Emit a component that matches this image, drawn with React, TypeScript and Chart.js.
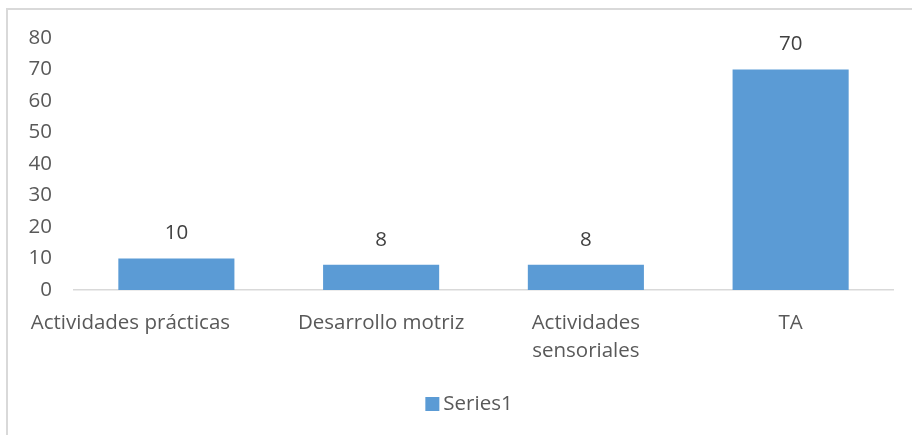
import React, { useEffect, useRef } from "react";
import { Chart, registerables } from "chart.js";

Chart.register(...registerables);

const categories: (string | string[])[] = [
  "Actividades prácticas",
  "Desarrollo motriz",
  ["Actividades", "sensoriales"],
  "TA",
];
const seriesName = "Series1";
const seriesValues = [10, 8, 8, 70];
const yMin = 0;
const yMax = 80;
const yStep = 10;

const FONT = "'Open Sans', 'Noto Sans', sans-serif";
const FONT_SIZE = 20.5;
const TEXT_COLOR = "#595959";
const BAR_COLOR = "#5B9BD5";

// Excel nudged the first (wide) category label to the left
const FIRST_LABEL_SHIFT = -46;

const dataLabels = {
  id: "dataLabels",
  afterDatasetsDraw(chart: any) {
    const ctx = chart.ctx;
    ctx.save();
    ctx.font = `${FONT_SIZE}px ${FONT}`;
    ctx.fillStyle = "#404040";
    ctx.textAlign = "center";
    ctx.textBaseline = "middle";
    chart.data.datasets.forEach((ds: any, i: number) => {
      const meta = chart.getDatasetMeta(i);
      meta.data.forEach((bar: any, j: number) => {
        ctx.fillText(String(ds.data[j]), bar.x, bar.y - 25);
      });
    });
    ctx.restore();
  },
};

const xLabelsAndLegend = {
  id: "xLabelsAndLegend",
  afterDraw(chart: any) {
    const ctx = chart.ctx;
    const xs = chart.scales.x;
    const bottom = chart.chartArea.bottom;
    ctx.save();
    ctx.font = `${FONT_SIZE}px ${FONT}`;
    ctx.fillStyle = TEXT_COLOR;
    ctx.textAlign = "center";
    ctx.textBaseline = "middle";
    (chart.data.labels as any[]).forEach((lab, i) => {
      const lines = Array.isArray(lab) ? lab : [lab];
      let x = xs.getPixelForTick(i);
      if (i === 0) x += FIRST_LABEL_SHIFT;
      lines.forEach((ln: string, k: number) => {
        ctx.fillText(ln, x, bottom + 33 + k * 28);
      });
    });
    // legend
    const ds = chart.data.datasets[0];
    const box = 14;
    const gap = 4;
    const tw = ctx.measureText(ds.label).width;
    const total = box + gap + tw;
    const cx = (chart.width + 26) / 2;
    const cy = 404;
    const sx = cx - total / 2;
    ctx.fillStyle = ds.backgroundColor;
    ctx.fillRect(sx, cy - box / 2, box, box);
    ctx.fillStyle = TEXT_COLOR;
    ctx.textAlign = "left";
    ctx.fillText(ds.label, sx + box + gap, cy);
    ctx.restore();
  },
};

export default function App() {
  const ref = useRef<HTMLCanvasElement | null>(null);
  useEffect(() => {
    if (!ref.current) return;
    const chart = new Chart(ref.current, {
      type: "bar",
      data: {
        labels: categories,
        datasets: [
          {
            label: seriesName,
            data: seriesValues,
            backgroundColor: BAR_COLOR,
            borderWidth: 0,
            categoryPercentage: 1,
            barPercentage: 0.567,
          },
        ],
      },
      options: {
        animation: false,
        responsive: false,
        maintainAspectRatio: false,
        layout: { padding: { left: 0, right: 19, top: 38, bottom: 50 } },
        scales: {
          x: {
            grid: { display: false, drawTicks: false },
            border: { display: true, color: "#D9D9D9", width: 1.5 },
            ticks: { display: false },
            afterFit: (s: any) => {
              s.height = 95;
            },
          },
          y: {
            min: yMin,
            max: yMax,
            grid: { display: false, drawTicks: false },
            border: { display: false },
            ticks: {
              stepSize: yStep,
              color: TEXT_COLOR,
              font: { family: FONT, size: FONT_SIZE },
              padding: 22,
            },
            afterFit: (s: any) => {
              s.width = 74;
            },
          },
        },
        plugins: {
          legend: { display: false },
          tooltip: { enabled: false },
        },
      },
      plugins: [dataLabels, xLabelsAndLegend],
    });
    return () => chart.destroy();
  }, []);
  return (
    <div style={{ position: "absolute", left: 0, top: 0, width: 912, height: 435, background: "#fff", overflow: "hidden" }}>
      <div
        style={{
          position: "absolute",
          left: 6,
          top: 8,
          width: 1000,
          height: 1000,
          borderTop: "2px solid #D9D9D9",
          borderLeft: "2px solid #D9D9D9",
        }}
      />
      <canvas ref={ref} width={912} height={435} style={{ position: "absolute", left: 0, top: 0 }} />
    </div>
  );
}
